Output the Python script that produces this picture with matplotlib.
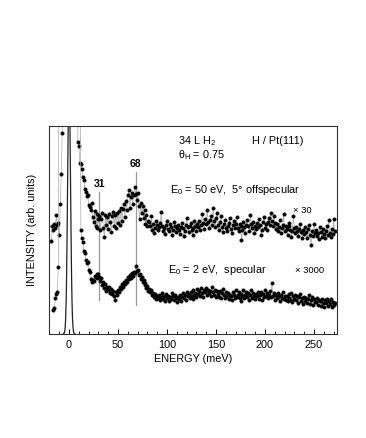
import numpy as np
import matplotlib
matplotlib.use("Agg")
from matplotlib import pyplot as plt
from matplotlib.ticker import MultipleLocator

plt.rcParams['font.family'] = ['Liberation Sans', 'DejaVu Sans']
plt.rcParams['mathtext.fontset'] = 'custom'
plt.rcParams['mathtext.rm'] = 'Liberation Sans'

nan = np.nan
OFF = 400  # off-scale (beyond top of frame)

# loss spectra, 1 meV steps starting at -18 meV (height in arb. units)
offspec = [
    93, 108, 104, 110, 106, 119, 109, 111, 99, 130,          # -18
    160, 201, OFF, nan, nan, nan, nan, nan, nan, nan,         # -8
    nan, nan, nan, nan, nan, nan, OFF, 192, 188, 171,         # 2
    170, 165, 157, 154, 145, 142, 138, 139, 129, 127,         # 12
    124, 131, 117, 112, 123, 108, 120, 106, 115, 118,         # 22
    104, 115, 121, 106, 97, 119, 109, 117, 105, 120,          # 32
    112, 102, 118, 122, 108, 119, 106, 121, 111, 123,         # 42
    109, 126, 113, 125, 130, 117, 133, 124, 139, 144,         # 52
    126, 137, 141, 130, 139, 147, 140, 134, 141, 128,         # 62
    115, 131, 121, 128, 116, 124, 110, 119, 108, 113,         # 72
    112, 108, 118, 104, 110, 101, 106, 113, 109, 104,         # 82
    107, 111, 122, 108, 103, 106, 100, 109, 113, 105,         # 92
    103, 110, 107, 99, 104, 112, 108, 102, 106, 109,          # 102
    104, 100, 107, 111, 106, 98, 103, 109, 116, 107,          # 112
    102, 108, 111, 104, 99, 106, 113, 108, 103, 110,          # 122
    107, 113, 104, 109, 120, 111, 105, 115, 110, 124,         # 132
    112, 106, 114, 118, 109, 126, 113, 107, 116, 121,         # 142
    109, 104, 112, 118, 107, 102, 110, 114, 106, 103,         # 152
    108, 111, 116, 105, 101, 109, 113, 106, 110, 117,         # 162
    106, 103, 110, 108, 94, 104, 112, 107, 101, 109,          # 172
    114, 108, 103, 119, 110, 106, 112, 101, 108, 105,         # 182
    111, 107, 115, 109, 99, 104, 112, 117, 106, 110,          # 192
    104, 112, 116, 109, 121, 113, 108, 118, 111, 105,         # 202
    110, 103, 107, 114, 101, 106, 109, 120, 103, 108,         # 212
    105, 99, 108, 111, 104, 97, 103, 118, 106, 101,           # 222
    107, 103, 98, 105, 110, 102, 96, 104, 100, 107,           # 232
    102, 96, 105, 109, 99, 89, 103, 98, 110, 101,             # 242
    104, 98, 101, 95, 107, 102, 97, 105, 100, 96,             # 252
    103, 108, 99, 114, 101, 97, 105, 100, 115, 103,           # 262
]

specular = [
    nan, nan, 24, 26, 36, 40, 42, 67, OFF, nan,               # -18
    nan, nan, nan, nan, nan, nan, nan, nan, nan, nan,         # -8
    nan, nan, nan, nan, nan, nan, nan, nan, nan, OFF,         # 2
    104, 96, 92, 83, 81, 74, 71, 72, 64, 62,                  # 12
    55, 52, 54, 53, 58, 57, 60, 56, 60, 57,                   # 22
    53, 56, 49, 52, 46, 50, 43, 47, 44, 47,                   # 32
    41, 45, 40, 43, 38, 34, 42, 39, 44, 42,                   # 42
    47, 45, 50, 47, 52, 50, 54, 52, 57, 55,                   # 52
    59, 56, 61, 58, 62, 61, 68, 63, 64, 59,                   # 62
    60, 55, 57, 52, 54, 49, 51, 46, 48, 43,                   # 72
    45, 42, 44, 39, 41, 37, 40, 35, 38, 36,                   # 82
    39, 34, 37, 41, 35, 38, 33, 40, 36, 38,                   # 92
    33, 37, 35, 41, 38, 34, 39, 36, 32, 37,                   # 102
    35, 39, 33, 37, 41, 36, 39, 34, 42, 38,                   # 112
    40, 36, 42, 38, 35, 44, 39, 41, 37, 45,                   # 122
    40, 43, 38, 46, 41, 37, 44, 42, 46, 39,                   # 132
    44, 41, 43, 38, 47, 42, 39, 44, 37, 43,                   # 142
    40, 37, 43, 36, 41, 45, 39, 36, 42, 38,                   # 152
    41, 35, 39, 38, 34, 42, 39, 36, 44, 37,                   # 162
    39, 42, 36, 33, 40, 38, 44, 36, 39, 42,                   # 172
    37, 41, 34, 39, 44, 36, 41, 38, 35, 40,                   # 182
    38, 42, 35, 39, 42, 34, 40, 37, 44, 38,                   # 192
    41, 36, 39, 43, 37, 51, 38, 41, 34, 39,                   # 202
    36, 41, 38, 33, 39, 36, 42, 35, 38, 34,                   # 212
    38, 33, 40, 36, 34, 41, 32, 38, 35, 39,                   # 222
    34, 38, 31, 37, 40, 33, 36, 30, 37, 33,                   # 232
    36, 31, 35, 39, 30, 34, 37, 29, 35, 32,                   # 242
    32, 36, 29, 34, 33, 28, 35, 31, 27, 34,                   # 252
    31, 35, 28, 33, 30, 35, 27, 32, 29, 31,                   # 262
]

# unscaled elastic peak
peak_e = [-6, -5, -4.5, -4, -3.5, -3, -2.5, -2, -1.5, -1, -0.5, 0,
          0.5, 1, 1.5, 2, 2.5, 3, 3.5, 4, 4.5, 5, 6]
peak_h = [0, 0.9, 2.5, 6.6, 15.5, 32, 60, 101, 150, 199, 236, 250,
          236, 199, 150, 101, 60, 32, 15.5, 6.6, 2.5, 0.9, 0]

# marked loss peaks: (energy, line bottom, line top)
marks = [(31, 34, 142), (68, 29, 162)]

e_off = np.arange(-18, -18 + len(offspec))
e_spec = np.arange(-18, -18 + len(specular))

fig = plt.figure(figsize=(3.66, 4.38), dpi=100)
ax = fig.add_axes([49 / 366, 1 - 334 / 438, 288 / 366, 208 / 438])

ax.plot(peak_e, peak_h, color='#222222', lw=0.9)
for e, lo, hi in marks:
    ax.plot([e, e], [lo, hi], color='#999999', lw=0.9)
    ax.text(e, hi + 5, str(e), ha='center', va='baseline', fontsize=7.5,
            fontweight='bold')

for e, h in [(e_off, offspec), (e_spec, specular)]:
    ax.plot(e, h, color='#aaaaaa', lw=0.5)
    ax.plot(e, h, ls='none', marker='o', ms=2.6, mfc='black', mec='black', mew=0.2)

ax.text(111, 190, r'34 L H$_\mathregular{2}$', fontsize=7.8)
ax.text(111.5, 175.5, r'θ$_\mathregular{H}$ = 0.75', fontsize=7.8)
ax.text(187, 190, 'H / Pt(111)', fontsize=7.8)
ax.text(103, 141, r'E$_\mathregular{0}$ = 50 eV,  5° offspecular', fontsize=7.8)
ax.text(229, 121, '× 30', fontsize=6.8)
ax.text(101, 61, r'E$_\mathregular{0}$ = 2 eV,  specular', fontsize=7.8)
ax.text(230.5, 61, '× 3000', fontsize=6.8)

ax.set_xlim(-20.5, 273.5)
ax.set_ylim(0, 208)
ax.xaxis.set_major_locator(MultipleLocator(50))
ax.xaxis.set_minor_locator(MultipleLocator(10))
ax.set_yticks([])
ax.tick_params(axis='x', which='both', direction='in', top=False, labelsize=7.8, pad=4)
ax.tick_params(axis='x', which='major', length=3.5, width=0.7)
ax.tick_params(axis='x', which='minor', length=2, width=0.6)
for s in ax.spines.values():
    s.set_linewidth(0.8)
    s.set_color('#333333')

ax.set_xlabel('ENERGY (meV)', fontsize=7.8)
ax.xaxis.set_label_coords(0.5, -0.097)
ax.set_ylabel('INTENSITY (arb. units)', fontsize=7.8)
ax.yaxis.set_label_coords(-0.04, 0.5)

fig.savefig('out.png', dpi=100)
